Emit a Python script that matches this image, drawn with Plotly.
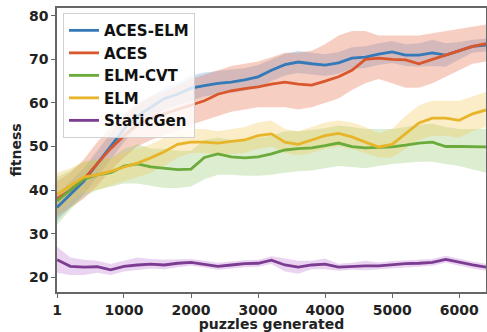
"""
Fitness vs puzzles generated, mean with spread bands.
"""

import plotly.graph_objects as go

# =====================================================
# Data
# =====================================================
puzzles = [1, 200, 400, 600, 800, 1000, 1200, 1400, 1600, 1800, 2000,
           2200, 2400, 2600, 2800, 3000, 3200, 3400, 3600, 3800, 4000,
           4200, 4400, 4600, 4800, 5000, 5200, 5400, 5600, 5800, 6000,
           6200, 6400]

aces_elm = [36, 39, 42, 46, 50, 54, 57, 59, 61, 62, 63.4,
            64, 64.5, 64.8, 65.3, 66, 67.5, 68.8, 69.4, 69, 68.7,
            69.2, 70.3, 70.5, 71.2, 71.7, 71, 71, 71.5, 71, 72,
            73, 73.3]
aces_elm_lo = [33, 36, 39, 43, 47, 51, 54.5, 56.5, 58.5, 59.5, 60.5,
               61.5, 62, 62.3, 62.8, 63.5, 65, 66.3, 66.9, 66.5, 66.2,
               66.7, 67.8, 68, 68.7, 69.2, 68.5, 68.3, 68.5, 68.3, 70,
               71.5, 71.8]
aces_elm_hi = [39, 42, 45, 49, 53, 57, 59.5, 61.5, 63.5, 64.5, 66.3,
               67, 67.3, 67.6, 68, 68.7, 70, 71.3, 71.9, 71.5, 71.2,
               71.7, 72.8, 73, 73.7, 74.2, 73.5, 73.7, 74.5, 73.7, 74,
               74.5, 74.8]

aces = [38, 40, 42.5, 46, 49.5, 52.5, 55, 56.5, 57.5, 58.5, 59.5,
        60.5, 62, 62.8, 63.3, 63.7, 64.3, 64.8, 64.3, 64.1, 65,
        66, 67.5, 70, 70.3, 70, 69.9, 69, 70, 71, 72,
        73, 73.6]
aces_lo = [34, 36, 38, 41, 44.5, 47.5, 50, 51.5, 52.5, 53.5, 55,
           56, 57, 58, 58.5, 59, 59, 59, 58.5, 59, 60,
           61, 63, 64.5, 65.5, 64.5, 63.5, 63.5, 64.5, 66, 67.5,
           69, 69.5]
aces_hi = [42, 44, 47, 51, 54.5, 57.5, 60, 61.5, 62.5, 64, 65.5,
           66.5, 67.5, 68.5, 69, 69.5, 70.5, 71.5, 71.5, 72, 73.5,
           75.5, 76.5, 76.5, 75.5, 75.5, 75.5, 75.5, 76, 76.5, 77,
           77.5, 78]

elm_cvt = [37.5, 40, 42.5, 43.5, 44, 45.5, 46, 45.3, 45, 44.7, 44.8,
           47.5, 48.3, 47.6, 47.4, 47.6, 48.3, 49.2, 49.5, 49.7, 50.2,
           50.8, 50, 49.7, 49.8, 49.9, 50.3, 50.8, 51, 50, 50,
           50, 49.9]
elm_cvt_lo = [32, 35.5, 38.5, 40, 40.8, 41.5, 41.5, 41, 40.5, 40.5, 40.8,
              42.5, 43.5, 43.5, 43.3, 43.3, 43.5, 44, 44.3, 44.5, 45,
              45.5, 45.3, 45, 45.5, 46, 46.3, 46.5, 46.5, 46, 45.5,
              44.8, 44]
elm_cvt_hi = [43, 44.5, 46.5, 47, 47.3, 49.5, 50.5, 49.5, 49.5, 49, 49,
              51.5, 52, 51.5, 51.5, 52, 52.5, 53.5, 53.5, 53.8, 54.2,
              54.8, 54.5, 54, 54, 54, 54.5, 55, 55.2, 54.5, 54,
              54, 54]

elm = [39, 41, 43, 43.5, 44.3, 45.3, 46.2, 47.4, 48.8, 50.5, 51,
       51, 50.8, 51.2, 51.5, 52.5, 52.9, 51, 50.5, 51.5, 52.5,
       53, 52.2, 51, 49.9, 50.5, 53, 55.4, 56.5, 56.5, 56,
       57.5, 58.4]
elm_lo = [35, 37.5, 39.5, 40, 41, 42, 43, 44, 45.5, 47.5, 48.5,
          48.5, 48, 48.3, 48.5, 49.5, 50, 48.5, 48, 48.5, 49.5,
          50, 49.5, 48.5, 47.5, 47.5, 49.5, 51.5, 52.5, 52.5, 52,
          53.5, 54.5]
elm_hi = [44, 45, 46.5, 47, 47.5, 48.5, 49.5, 50.5, 52, 53.5, 54,
          54, 53.5, 54, 54.5, 55.5, 56, 54, 53.5, 54.5, 55.5,
          56, 55.5, 54.5, 53, 54, 57, 59.5, 60.5, 60.5, 60.5,
          61.5, 62.5]

static_gen = [24, 22.5, 22.3, 22.4, 21.7, 22.5, 22.8, 23, 22.8, 23.2, 23.4,
              23, 22.5, 22.8, 23.1, 23.2, 23.9, 22.8, 22.3, 22.8, 23,
              22.3, 22.5, 22.6, 22.6, 22.9, 23.1, 23.2, 23.4, 24.1, 23.4,
              22.8, 22.3]
static_gen_lo = [21, 20.5, 20.5, 21, 20.5, 21.3, 21.7, 22, 21.8, 22.3, 22.6,
                 22.2, 21.7, 22, 22.3, 22.4, 23, 21.3, 20.8, 21.8, 21.8,
                 21.5, 21.7, 21.6, 21.8, 22.1, 22.3, 22.4, 22.6, 23.3, 22.6,
                 22, 21.5]
static_gen_hi = [27, 24.5, 24, 23.8, 23, 23.8, 24.5, 24.2, 24, 24.1, 24.2,
                 23.8, 23.3, 23.6, 23.9, 24, 24.8, 24.3, 23.8, 23.8, 24.3,
                 23.1, 23.3, 23.8, 23.4, 23.7, 23.9, 24, 24.2, 24.9, 24.2,
                 23.6, 23.1]

x_ticks = [1, 1000, 2000, 3000, 4000, 5000, 6000]
y_ticks = [20, 30, 40, 50, 60, 70, 80]

# =====================================================
# Series styling
# =====================================================
series = [
    ("ACES-ELM", aces_elm, aces_elm_lo, aces_elm_hi, "#3479b8", "rgba(90,150,215,0.32)"),
    ("ACES", aces, aces_lo, aces_hi, "#d9572d", "rgba(232,125,90,0.37)"),
    ("ELM-CVT", elm_cvt, elm_cvt_lo, elm_cvt_hi, "#6aab3b", "rgba(150,200,105,0.32)"),
    ("ELM", elm, elm_lo, elm_hi, "#e8b52a", "rgba(238,200,80,0.32)"),
    ("StaticGen", static_gen, static_gen_lo, static_gen_hi, "#7b3c92", "rgba(190,120,210,0.32)"),
]

fig = go.Figure()

# bands first so the lines sit on top
for name, mid, lo, hi, col, band in series:
    fig.add_trace(go.Scatter(
        x=puzzles + puzzles[::-1], y=hi + lo[::-1],
        fill="toself", fillcolor=band, line=dict(width=0),
        mode="lines", hoverinfo="skip", showlegend=False))

for name, mid, lo, hi, col, band in series:
    fig.add_trace(go.Scatter(
        x=puzzles, y=mid, name=name, mode="lines",
        line=dict(color=col, width=2.8)))

bold = dict(family="DejaVu Sans", size=14, color="#222", weight="bold")

fig.update_layout(
    width=487, height=332,
    margin=dict(l=57, r=1, t=8, b=40, autoexpand=False),
    paper_bgcolor="white", plot_bgcolor="white",
    font=bold,
    showlegend=True,
    legend=dict(
        x=0.014, y=0.982, xanchor="left", yanchor="top",
        bgcolor="rgba(255,255,255,0.8)", bordercolor="#d0d0d0", borderwidth=1,
        font=dict(family="DejaVu Sans", size=15, color="#111", weight="bold"),
        tracegroupgap=0,
    ),
)

fig.update_xaxes(
    range=[1, 6400], tickvals=x_ticks, ticktext=[str(v) for v in x_ticks],
    automargin=False,
    showgrid=False, zeroline=False,
    showline=True, mirror=True, linecolor="#666", linewidth=1.5,
    ticks="outside", ticklen=4, tickcolor="#666",
    tickfont=bold,
    title=dict(text="puzzles generated", standoff=0, font=bold),
)
fig.update_yaxes(
    range=[16.6, 81.8], tickvals=y_ticks,
    automargin=False,
    showgrid=False, zeroline=False,
    showline=True, mirror=True, linecolor="#666", linewidth=1.5,
    ticks="outside", ticklen=4, tickcolor="#666",
    tickfont=bold,
    title=dict(text="fitness", standoff=4, font=bold),
)

# page body has a default 8px margin; drop it so the figure fills the window
fig.write_html("out.html", config={"displayModeBar": False},
               post_script="document.body.style.margin='0';")
